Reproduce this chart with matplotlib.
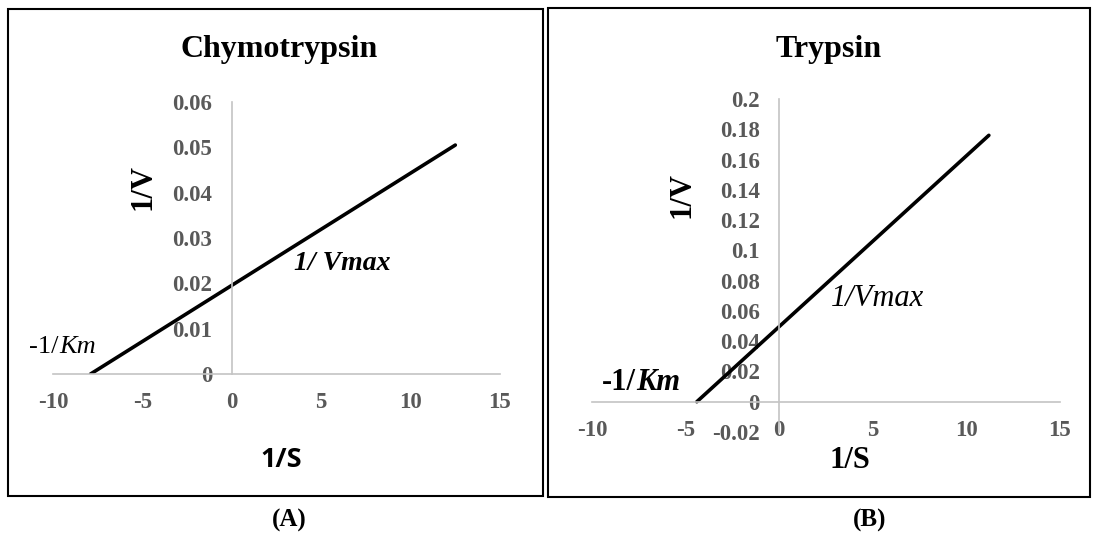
import matplotlib
matplotlib.use("Agg")
import matplotlib.pyplot as plt
from matplotlib.patches import Rectangle

# Lineweaver-Burk lines, end points
chymo_x = [-7.9, 12.5]
chymo_y = [0.0, 0.0505]
tryp_x = [-4.4, 11.2]
tryp_y = [0.0, 0.176]

x_ticks = [-10, -5, 0, 5, 10, 15]
chymo_yticks = [0, 0.01, 0.02, 0.03, 0.04, 0.05, 0.06]
chymo_ylabels = ["0", "0.01", "0.02", "0.03", "0.04", "0.05", "0.06"]
tryp_yticks = [-0.02, 0, 0.02, 0.04, 0.06, 0.08, 0.1, 0.12, 0.14, 0.16, 0.18, 0.2]
tryp_ylabels = ["-0.02", "0", "0.02", "0.04", "0.06", "0.08", "0.1",
                "0.12", "0.14", "0.16", "0.18", "0.2"]

W, H = 1093, 536
SERIF = "Liberation Serif"
GREY = "#595959"

fig = plt.figure(figsize=(W / 100, H / 100), dpi=100)


def fx(x):
    return x / W


def fy(y):
    return 1 - y / H


def px_axes(left, right, top, bottom):
    return fig.add_axes([fx(left), fy(bottom), (right - left) / W, (bottom - top) / H])


def style_axes(ax, yticks, ylabels, ylim):
    ax.set_xlim(-10, 15)
    ax.set_ylim(*ylim)
    for s in ["top", "right"]:
        ax.spines[s].set_visible(False)
    for s in ["left", "bottom"]:
        ax.spines[s].set_position(("data", 0))
        ax.spines[s].set_color("#c4c4c4")
        ax.spines[s].set_linewidth(1.2)
    ax.set_xticks(x_ticks)
    ax.set_xticklabels([str(t) for t in x_ticks])
    ax.set_yticks(yticks)
    ax.set_yticklabels(ylabels)
    ax.tick_params(length=0, colors=GREY)
    ax.tick_params(axis="y", pad=14)
    ax.tick_params(axis="x", pad=13)
    for lab in ax.get_xticklabels() + ax.get_yticklabels():
        lab.set_fontfamily(SERIF)
        lab.set_fontweight("bold")
        lab.set_fontsize(16.5)
        lab.set_color(GREY)
    ax.patch.set_alpha(0)


# panel A
axA = px_axes(53, 500, 102, 374)
axA.plot(chymo_x, chymo_y, color="black", lw=2.6, solid_capstyle="round")
style_axes(axA, chymo_yticks, chymo_ylabels, (0, 0.06))

# panel B
axB = px_axes(592, 1060, 99, 432)
axB.plot(tryp_x, tryp_y, color="black", lw=2.6, solid_capstyle="round")
style_axes(axB, tryp_yticks, tryp_ylabels, (-0.02, 0.2))

# frames
for (l, t, r, b) in [(8, 9, 543, 496), (548, 8, 1090, 497)]:
    fig.patches.append(Rectangle((fx(l), fy(b)), (r - l) / W, (b - t) / H,
                                 transform=fig.transFigure, fill=False,
                                 edgecolor="black", lw=1.5))

# titles
fig.text(fx(279), fy(50), "Chymotrypsin", family=SERIF, weight="bold", size=23,
         ha="center", va="center")
fig.text(fx(829), fy(50), "Trypsin", family=SERIF, weight="bold", size=23,
         ha="center", va="center")

# axis titles
fig.text(fx(143), fy(187), "1/V", family=SERIF, weight="bold", size=22,
         rotation=90, ha="center", va="center")
fig.text(fx(682), fy(195), "1/V", family=SERIF, weight="bold", size=22,
         rotation=90, ha="center", va="center")
fig.text(fx(281), fy(460), "1/S", family="Open Sans", weight="bold", size=19.5,
         ha="center", va="center")
fig.text(fx(850), fy(461), "1/S", family=SERIF, weight="bold", size=22,
         ha="center", va="center")

# annotations
fig.text(fx(294), fy(263), "1/ Vmax", family=SERIF, weight="bold", style="italic",
         size=20, ha="left", va="center")
fig.text(fx(831), fy(298), "1/Vmax", family=SERIF, style="italic",
         size=22, ha="left", va="center")
fig.text(fx(59), fy(347), "-1/", family=SERIF, size=19, ha="right", va="center")
fig.text(fx(59), fy(347), "Km", family=SERIF, style="italic", size=19,
         ha="left", va="center")
fig.text(fx(636), fy(382), "-1/", family=SERIF, weight="bold", size=22,
         ha="right", va="center")
fig.text(fx(636), fy(382), "Km", family=SERIF, weight="bold", style="italic",
         size=22, ha="left", va="center")

# panel captions
fig.text(fx(289), fy(520), "(A)", family=SERIF, weight="bold", size=18,
         ha="center", va="center")
fig.text(fx(870), fy(520), "(B)", family=SERIF, weight="bold", size=18,
         ha="center", va="center")

fig.savefig("out.png", dpi=100)
